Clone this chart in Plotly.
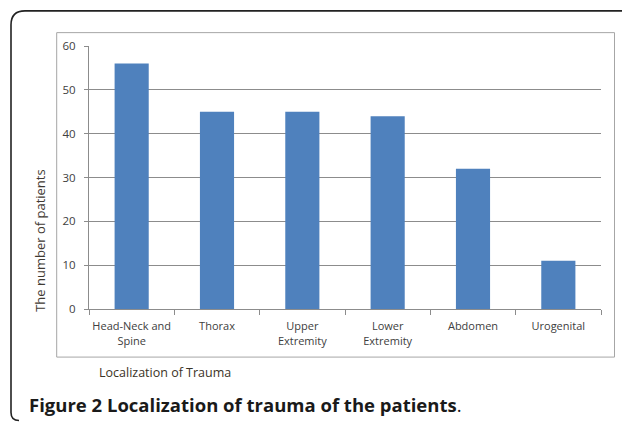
import plotly.graph_objects as go

categories = ["Head-Neck and<br>Spine", "Thorax", "Upper<br>Extremity", "Lower<br>Extremity", "Abdomen", "Urogenital"]
patients = [56, 45, 45, 44, 32, 11]
y_ticks = [0, 10, 20, 30, 40, 50, 60]

W, H = 622, 422
L, R, T, B = 89, 601, 45.7, 309.3
pw, ph = R - L, B - T

def px(x):
    return (x - L) / pw

def py(y):
    return (B - y) / ph

fig = go.Figure()
fig.add_trace(go.Bar(x=categories, y=patients, marker=dict(color="#4F81BD", line=dict(width=0)), width=0.4))

shapes = []
shapes.append(dict(type="rect", xref="paper", yref="paper",
                   x0=px(56.7), x1=px(614.5), y0=py(357.5), y1=py(32.3),
                   line=dict(color="#A6A6A6", width=1), fillcolor="rgba(0,0,0,0)", layer="below"))
r = 14
x0, y0, y1, xr = 11, 10.5, 421, 640
path = (f"M {px(xr)},{py(y0)} L {px(x0 + r)},{py(y0)} "
        f"Q {px(x0)},{py(y0)} {px(x0)},{py(y0 + r)} "
        f"L {px(x0)},{py(y1 - 8)} Q {px(x0)},{py(y1)} {px(x0 + 8)},{py(y1)}")
shapes.append(dict(type="path", xref="paper", yref="paper", path=path,
                   line=dict(color="#222222", width=1.6)))

annotations = [
    dict(text="The number of patients", xref="paper", yref="paper", x=px(40), y=py(241),
         textangle=-90, showarrow=False, font=dict(family="Open Sans", size=13, color="#3f3a33"),
         xanchor="center", yanchor="middle"),
    dict(text="Localization of Trauma", xref="paper", yref="paper", x=px(164.5), y=py(373),
         showarrow=False, font=dict(family="Open Sans", size=12.5, color="#3b3326"),
         xanchor="center", yanchor="middle"),
    dict(text="<b>Figure 2 Localization of trauma of the patients</b>.", xref="paper", yref="paper",
         x=px(27), y=py(405), showarrow=False, font=dict(family="Open Sans", size=18.5, color="#1a1a1a"),
         xanchor="left", yanchor="middle"),
]

fig.update_layout(
    width=W, height=H,
    margin=dict(l=L, r=W - R, t=T, b=H - B),
    paper_bgcolor="white", plot_bgcolor="white",
    showlegend=False,
    shapes=shapes, annotations=annotations,
    font=dict(family="Open Sans", size=11, color="#404040"),
    xaxis=dict(showline=True, linecolor="#8C8C8C", linewidth=1, ticks="outside", ticklen=5,
               tickcolor="#8C8C8C", tickson="boundaries", showgrid=False, tickangle=0,
               automargin=False, ticklabelstandoff=7,
               tickfont=dict(family="Open Sans", size=11, color="#404040")),
    yaxis=dict(range=[0, 60], tickvals=y_ticks, showline=True, linecolor="#8C8C8C", linewidth=1,
               ticks="outside", ticklen=4, tickcolor="#8C8C8C", showgrid=True, gridcolor="#8C8C8C",
               gridwidth=1, zeroline=False, automargin=False, ticklabelstandoff=6,
               tickfont=dict(family="Open Sans", size=11.5, color="#404040")),
)

fig.write_html("out.html", config={"displayModeBar": False},
               post_script="document.body.style.margin='0';document.body.style.overflow='hidden';")
